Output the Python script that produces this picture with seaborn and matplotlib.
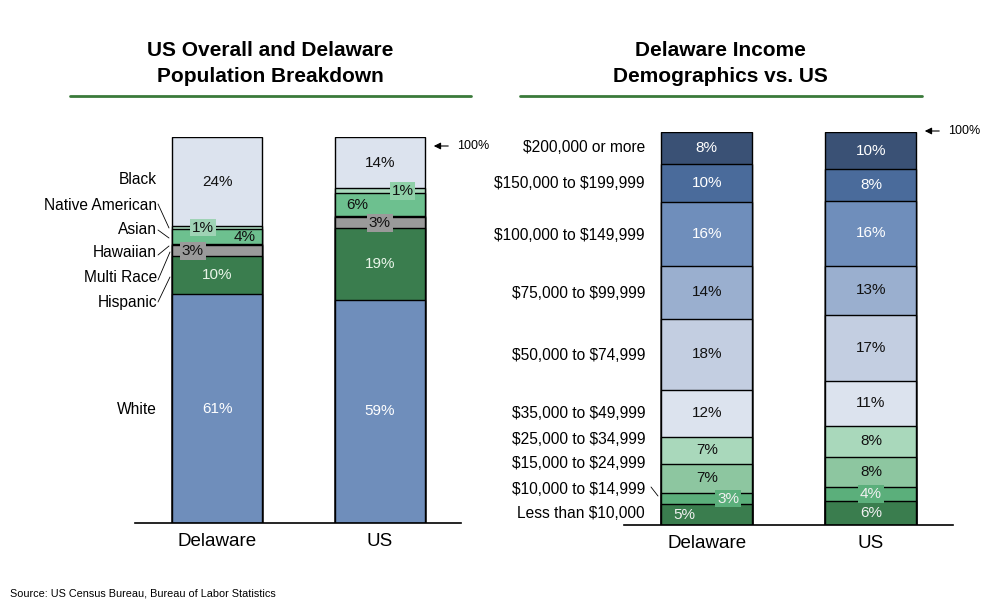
import numpy as np
import pandas as pd
import matplotlib
matplotlib.use('Agg')
import matplotlib.pyplot as plt
from matplotlib.lines import Line2D
from matplotlib.patches import FancyArrowPatch
import seaborn as sns

# Data (segments listed bottom to top)
regions = ['Delaware', 'US']

race_cats = ['White', 'Hispanic', 'Multi Race', 'Hawaiian', 'Asian', 'Native American', 'Black']
race_de = [59.3, 9.8, 2.9, 0.2, 4.0, 0.7, 23.1]
race_us = [57.9, 18.4, 3.0, 0.2, 5.9, 1.3, 13.3]
race_de_lbl = ['61%', '10%', '3%', '', '4%', '1%', '24%']
race_us_lbl = ['59%', '19%', '3%', '', '6%', '1%', '14%']

inc_cats = ['Less than $10,000', '$10,000 to $14,999', '$15,000 to $24,999',
            '$25,000 to $34,999', '$35,000 to $49,999', '$50,000 to $74,999',
            '$75,000 to $99,999', '$100,000 to $149,999', '$150,000 to $199,999',
            '$200,000 or more']
inc_de = [5.3, 3.0, 7.4, 6.8, 12.0, 17.9, 13.5, 16.2, 9.7, 8.2]
inc_us = [6.1, 3.7, 7.6, 7.9, 11.3, 16.8, 12.6, 16.3, 8.1, 9.6]
inc_de_lbl = ['5%', '3%', '7%', '7%', '12%', '18%', '14%', '16%', '10%', '8%']
inc_us_lbl = ['6%', '4%', '8%', '8%', '11%', '17%', '13%', '16%', '8%', '10%']

# colours
race_colors = ['#6F8EBB', '#3A7D4E', '#9A9A9A', '#222222', '#6DC08F', '#A9D9BC', '#DCE3EE']
race_text = ['white', '#E8F4E8', '#111111', '#111111', '#111111', '#111111', '#111111']
inc_colors = ['#3A7D4E', '#5BAF7B', '#8DC6A0', '#A9D8BB', '#DCE3EE',
              '#C3CEE1', '#9AAFCF', '#6F8EBB', '#4A6B9B', '#3A5175']
inc_text = ['#F0F0F0', '#F0F0F0', '#111111', '#111111', '#111111',
            '#111111', '#111111', 'white', 'white', 'white']

# label tweaks: (region, category) -> (x offset, box colour)
race_special = {('Delaware', 'Native American'): (-0.086, '#9FD3B5'),
                ('Delaware', 'Asian'): (0.17, None),
                ('Delaware', 'Multi Race'): (-0.15, '#9A9A9A'),
                ('US', 'Native American'): (0.14, '#8FD0A8'),
                ('US', 'Asian'): (-0.14, None),
                ('US', 'Multi Race'): (0.0, '#9A9A9A')}
inc_special = {('Delaware', '$10,000 to $14,999'): (0.13, '#5BAF7B'),
               ('Delaware', 'Less than $10,000'): (-0.135, None),
               ('US', '$10,000 to $14,999'): (0.0, '#5BAF7B')}

sns.set_style('white')
plt.rcParams['font.family'] = ['Liberation Sans', 'DejaVu Sans']
plt.rcParams['text.parse_math'] = False
plt.rcParams['text.color'] = 'black'
plt.rcParams['xtick.color'] = 'black'

W, H = 1008, 610
fig = plt.figure(figsize=(W / 100, H / 100), dpi=100)


def px(x, y):
    return x / W, 1 - y / H


def stacked(ax, cats, de, us, colors, tcolors, lbl_de, lbl_us, special):
    df = pd.DataFrame({'region': np.repeat(regions, len(cats)),
                       'cat': cats * 2,
                       'value': de + us,
                       'lbl': lbl_de + lbl_us,
                       'tcol': tcolors * 2})
    df['top'] = df.groupby('region')['value'].cumsum()
    df['mid'] = df['top'] - df['value'] / 2
    # draw cumulative bars from the top segment down so they stack
    for cat, col in reversed(list(zip(cats, colors))):
        sub = df[df['cat'] == cat]
        sns.barplot(data=sub, x='region', y='top', order=regions, color=col,
                    saturation=1, width=0.555, edgecolor='black', linewidth=1,
                    errorbar=None, ax=ax)
    for _, r in df.iterrows():
        if not r['lbl']:
            continue
        dx, box = special.get((r['region'], r['cat']), (0.0, None))
        xi = regions.index(r['region']) + dx
        kw = {}
        if box:
            kw['bbox'] = dict(boxstyle='square,pad=0.12', fc=box, ec='none')
        ax.text(xi, r['mid'], r['lbl'], ha='center', va='center',
                fontsize=11, color=r['tcol'], **kw)
    ax.set_xlim(-0.505, 1.5)
    ax.set_ylim(0, 100)
    ax.set_xlabel('')
    ax.set_ylabel('')
    ax.set_yticks([])
    for s in ['top', 'right', 'left']:
        ax.spines[s].set_visible(False)
    ax.spines['bottom'].set_color('black')
    ax.spines['bottom'].set_linewidth(1.2)
    ax.tick_params(axis='x', length=0, labelsize=13.5, pad=7, labelcolor='black')


ax1 = fig.add_axes([135 / W, 1 - 523 / H, 326 / W, 386 / H])
stacked(ax1, race_cats, race_de, race_us, race_colors, race_text,
        race_de_lbl, race_us_lbl, race_special)

ax2 = fig.add_axes([624 / W, 1 - 525.3 / H, 329 / W, 393.6 / H])
stacked(ax2, inc_cats, inc_de, inc_us, inc_colors, inc_text,
        inc_de_lbl, inc_us_lbl, inc_special)

# titles with green rule
for cx, lines, x0, x1 in [(270, ['US Overall and Delaware', 'Population Breakdown'], 70, 471),
                          (720, ['Delaware Income', 'Demographics vs. US'], 520, 922)]:
    fig.text(*px(cx, 50), lines[0], ha='center', va='center', fontsize=15, fontweight='bold')
    fig.text(*px(cx, 76), lines[1], ha='center', va='center', fontsize=15, fontweight='bold')
    fig.add_artist(Line2D([x0 / W, x1 / W], [1 - 96 / H, 1 - 96 / H],
                          transform=fig.transFigure, color='#3A7A3A', lw=2))

# left category labels with leader lines
race_lbl_y = {'Black': 179, 'Native American': 205, 'Asian': 229, 'Hawaiian': 253,
              'Multi Race': 277, 'Hispanic': 302, 'White': 410}
for name, y in race_lbl_y.items():
    fig.text(*px(157, y), name, ha='right', va='center', fontsize=11.2)
leaders = [((158, 204), (169, 228)), ((158, 230), (169, 238)), ((158, 255), (169, 246)),
           ((158, 280), (170, 252)), ((158, 302), (170, 277))]
for (xa, ya), (xb, yb) in leaders:
    fig.add_artist(Line2D([xa / W, xb / W], [1 - ya / H, 1 - yb / H],
                          transform=fig.transFigure, color='black', lw=0.6))

# right category labels
inc_lbl_y = [513, 489, 464, 440, 413, 355, 294, 235, 184, 148]
for name, y in zip(inc_cats, inc_lbl_y):
    fig.text(*px(645, y), name, ha='right', va='center', fontsize=11.2)
fig.add_artist(Line2D([651 / W, 658 / W], [1 - 487 / H, 1 - 496 / H],
                      transform=fig.transFigure, color='black', lw=0.6))

# 100% markers
for xh, xt, y in [(431, 451, 146), (922, 942, 131)]:
    fig.add_artist(FancyArrowPatch(px(xt, y), px(xh, y), transform=fig.transFigure,
                                   arrowstyle='-|>', mutation_scale=10, color='black', lw=0.8))
    fig.text(*px(xt + 6, y), '100%', ha='left', va='center', fontsize=9)

fig.text(*px(10, 594), 'Source: US Census Bureau, Bureau of Labor Statistics',
         ha='left', va='center', fontsize=7.8)

fig.savefig('out.png', dpi=100, facecolor='white')
